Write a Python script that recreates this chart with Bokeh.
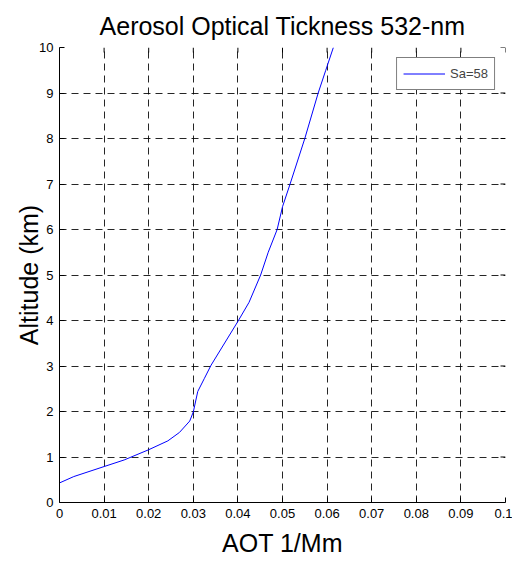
import math
from bokeh.plotting import figure
from bokeh.models import FixedTicker, Legend, LegendItem, Range1d
from bokeh.embed import file_html
from bokeh.resources import INLINE

# Data
aot = [0.0, 0.0032, 0.010, 0.0145, 0.020, 0.0243, 0.0269, 0.0292, 0.0300, 0.0310,
       0.0325, 0.0340, 0.0400, 0.0425, 0.0451, 0.0468, 0.0488, 0.0500, 0.0517,
       0.0550, 0.0580, 0.0597, 0.0614]
altitude = [0.43, 0.57, 0.79, 0.935, 1.16, 1.355, 1.54, 1.79, 1.99, 2.44,
            2.73, 3.02, 3.98, 4.40, 5.00, 5.50, 6.00, 6.50, 7.00,
            8.00, 9.00, 9.50, 10.00]
x_ticks = [0.0, 0.01, 0.02, 0.03, 0.04, 0.05, 0.06, 0.07, 0.08, 0.09, 0.1]
x_labels = ["0", "0.01", "0.02", "0.03", "0.04", "0.05", "0.06", "0.07", "0.08", "0.09", "0.1"]
y_ticks = [0, 1, 2, 3, 4, 5, 6, 7, 8, 9, 10]
series_label = "Sa=58"
title_text = "Aerosol Optical Tickness 532-nm"
x_min, x_max = 0.0, 0.1
y_min, y_max = 0, 10

FONT = "Liberation Sans"

p = figure(width=512, height=562, x_range=Range1d(x_min, x_max), y_range=Range1d(y_min, y_max),
           output_backend="svg", toolbar_location=None,
           min_border_left=59, min_border_right=7, min_border_top=47, min_border_bottom=60)
p.outline_line_color = None
p.background_fill_color = "white"
p.border_fill_color = "white"

p.title.text = title_text
p.title.align = "center"
p.title.text_font = FONT
p.title.text_font_size = "25px"
p.title.text_font_style = "normal"
p.title.text_color = "black"
p.title.standoff = 16

for ax in (p.xaxis, p.yaxis):
    ax.major_tick_in = 5
    ax.major_tick_out = 0
    ax.minor_tick_line_color = None
    ax.major_label_text_font = FONT
    ax.major_label_text_font_size = "13px"
    ax.major_label_text_color = "black"
    ax.axis_label_text_font = FONT
    ax.axis_label_text_font_size = "25px"
    ax.axis_label_text_font_style = "normal"
    ax.axis_label_text_color = "black"
    ax.axis_line_color = "black"
    ax.major_tick_line_color = "black"

p.xaxis.ticker = FixedTicker(ticks=x_ticks)
p.xaxis.major_label_overrides = {t: l for t, l in zip(x_ticks, x_labels)}
p.yaxis.ticker = FixedTicker(ticks=y_ticks)
p.xaxis.axis_label = "AOT 1/Mm"
p.yaxis.axis_label = "Altitude (km)"
p.xaxis.major_label_standoff = 6
p.xaxis.axis_label_standoff = 8
p.yaxis.major_label_standoff = 6
p.yaxis.axis_label_standoff = -7

p.xgrid.ticker = FixedTicker(ticks=x_ticks)
p.ygrid.ticker = FixedTicker(ticks=y_ticks)
for g in (p.xgrid, p.ygrid):
    g.grid_line_color = "black"
    g.grid_line_alpha = 0.85
    g.grid_line_dash = "7 5"
    g.grid_line_width = 1

# inward tick marks on the top and right edges of the box
p.ray(x=x_ticks, y=[y_max] * len(x_ticks), length=5, length_units="screen",
      angle=-math.pi / 2, line_color="black", line_width=1)
p.ray(x=[x_max] * len(y_ticks), y=y_ticks, length=5, length_units="screen",
      angle=math.pi, line_color="black", line_width=1)

r = p.line(aot, altitude, line_color="#0000ff", line_width=1)

legend = Legend(items=[LegendItem(label=series_label, renderers=[r])], location="top_right")
legend.margin = 10
legend.padding = 6
legend.glyph_width = 42
legend.glyph_height = 19
legend.label_height = 19
legend.label_standoff = 5
legend.label_text_font = FONT
legend.label_text_font_size = "13px"
legend.border_line_color = "black"
legend.border_line_width = 1
legend.background_fill_color = "white"
legend.background_fill_alpha = 1
p.add_layout(legend)

open("out.html", "w").write(file_html(p, INLINE))
